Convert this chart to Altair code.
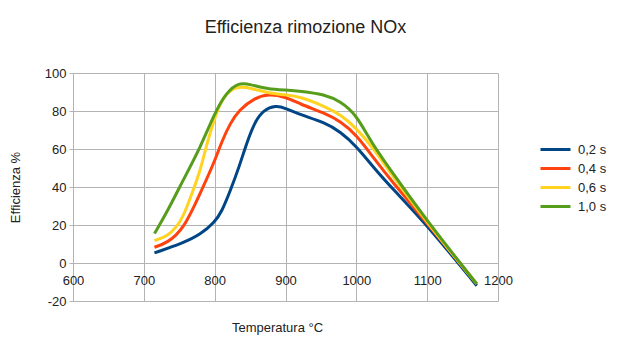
import altair as alt
import pandas as pd

# Data
series = ["0,2 s", "0,4 s", "0,6 s", "1,0 s"]
colors = ["#004586", "#ff420e", "#ffd320", "#579d1c"]

temp_02 = [715, 756, 780, 800, 810, 822, 834, 846, 857, 869, 886, 900, 921, 955, 978, 1000, 1025, 1050, 1100, 1170]
eff_02 = [5.3, 10.6, 15, 21.5, 27, 38, 50, 64, 74.5, 80.5, 83, 81.5, 78, 74, 69, 61.5, 50, 39.5, 20, -12]

temp_04 = [715, 733, 756, 780, 800, 810, 822, 834, 857, 876, 900, 921, 955, 978, 1000, 1025, 1050, 1100, 1170]
eff_04 = [8.3, 10.6, 17.6, 37, 53.5, 64, 73.5, 80.5, 87, 89, 87.5, 83.5, 79, 74.5, 67.5, 55, 43, 21, -11]

temp_06 = [715, 733, 747, 756, 770, 780, 789, 800, 810, 827, 841, 875, 900, 921, 955, 978, 1000, 1025, 1050, 1100, 1170]
eff_06 = [11.8, 14, 19.3, 24.6, 38.6, 49, 63, 76, 86.5, 92.5, 93, 89.5, 88.5, 87.5, 82.5, 78, 71, 60, 46.5, 21, -11]

temp_10 = [715, 733, 756, 780, 800, 817, 834, 850, 875, 900, 921, 955, 978, 1000, 1020, 1050, 1100, 1170]
eff_10 = [15.5, 27, 44, 61, 79, 90, 95, 94, 91.5, 91, 90.5, 88.7, 85, 78, 64, 48, 22, -11]

x_ticks = [600, 700, 800, 900, 1000, 1100, 1200]
y_ticks = [-20, 0, 20, 40, 60, 80, 100]

rows = []
for name, ts, es in zip(series, [temp_02, temp_04, temp_06, temp_10], [eff_02, eff_04, eff_06, eff_10]):
    for t, e in zip(ts, es):
        rows.append({"Temperatura": t, "Efficienza": e, "Serie": name})
df = pd.DataFrame(rows)

FONT = "Liberation Sans"

chart = alt.Chart(df).mark_line(interpolate="basis", strokeWidth=3).encode(
    x=alt.X("Temperatura:Q",
            scale=alt.Scale(domain=[600, 1200], nice=False, zero=False),
            axis=alt.Axis(values=x_ticks, labelExpr="'' + datum.value",
                          title="Temperatura °C", offset=-38,
                          domain=False, ticks=False, grid=True, labelPadding=11,
                          titleX=204, titleY=64, titleBaseline="middle",
                          labelFlush=False)),
    y=alt.Y("Efficienza:Q",
            scale=alt.Scale(domain=[-20, 100], nice=False),
            axis=alt.Axis(values=y_ticks, labelExpr="'' + datum.value",
                          title="Efficienza %", domain=False,
                          tickSize=4, tickColor="#b3b3b3", labelPadding=3,
                          titlePadding=22)),
    color=alt.Color("Serie:N",
                    scale=alt.Scale(domain=series, range=colors),
                    legend=alt.Legend(title=None, orient="none", legendX=466, legendY=67,
                                      symbolType="stroke", symbolSize=900,
                                      symbolStrokeWidth=3, labelFontSize=13,
                                      labelFont=FONT, labelColor="#222222",
                                      clipHeight=19, rowPadding=0, labelOffset=6)),
    order=alt.Order("Temperatura:Q"),
).properties(
    width=425,
    height=228,
    background="white",
    title=alt.TitleParams("Efficienza rimozione NOx", fontSize=18, font=FONT,
                          fontWeight="normal", color="#222222", anchor="middle",
                          dx=20, offset=30),
    padding={"left": 65, "top": 65, "right": 126, "bottom": 53},
    autosize=alt.AutoSizeParams(type="none"),
).configure_axis(
    gridColor="#b3b3b3",
    gridWidth=1,
    labelFont=FONT,
    labelFontSize=13,
    labelColor="#222222",
    titleFont=FONT,
    titleFontSize=13,
    titleFontWeight="normal",
    titleColor="#222222",
).configure_view(
    stroke=None,
)

chart.save("out.html", embed_options={"renderer": "svg", "actions": False})
